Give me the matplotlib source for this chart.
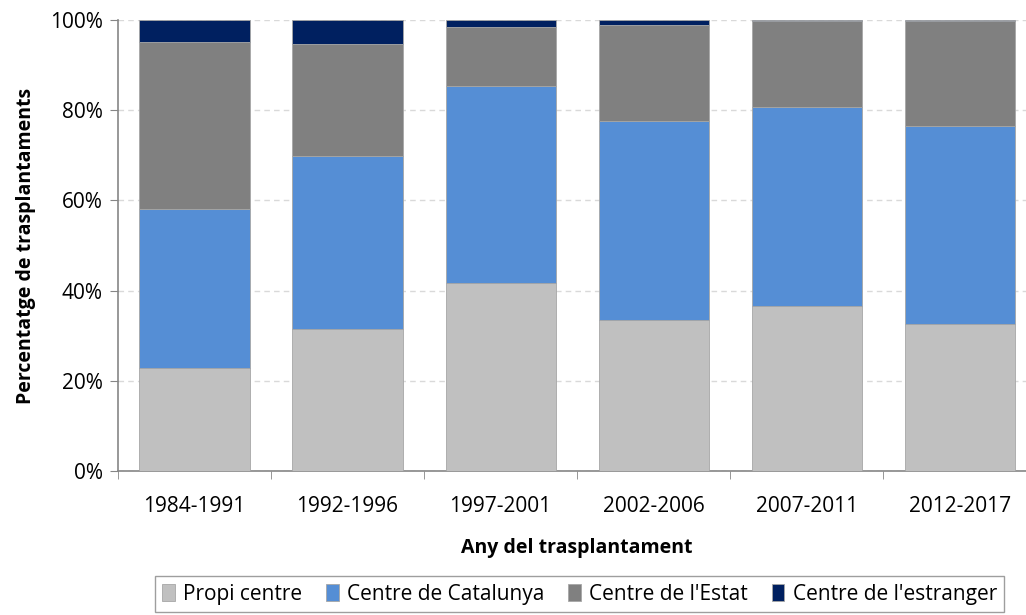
import numpy as np
import matplotlib.pyplot as plt
from matplotlib.ticker import PercentFormatter

plt.rcParams['font.family'] = ['Open Sans', 'DejaVu Sans']

periods = ['1984-1991', '1992-1996', '1997-2001', '2002-2006', '2007-2011', '2012-2017']
propi = [22.8, 31.4, 41.6, 33.4, 36.7, 32.7]
catalunya = [35.4, 38.5, 43.8, 44.3, 44.1, 43.8]
estat = [36.9, 24.8, 13.1, 21.2, 19.0, 23.3]
estranger = [4.9, 5.3, 1.5, 1.1, 0.2, 0.2]

series = [propi, catalunya, estat, estranger]
names = ['Propi centre', 'Centre de Catalunya', "Centre de l'Estat", "Centre de l'estranger"]
colors = ['#C0C0C0', '#558ED5', '#808080', '#002060']

fig = plt.figure(figsize=(10.26, 6.15), dpi=100)
ax = fig.add_axes([0.115, 0.234, 0.895, 0.7335])

x = np.arange(len(periods))
bottom = np.zeros(len(periods))
for vals, name, c in zip(series, names, colors):
    ax.bar(x, vals, 0.72, bottom=bottom, color=c, label=name,
           edgecolor='#A6A6A6', linewidth=0.6, zorder=3)
    bottom += np.array(vals)

ax.set_xlim(-0.5, len(periods) - 0.5)
ax.set_ylim(0, 100)
ax.set_yticks(np.arange(0, 101, 20))
ax.yaxis.set_major_formatter(PercentFormatter(decimals=0))
ax.set_xticks(x)
ax.set_xticklabels(periods)
ax.set_xticks(np.arange(-0.5, len(periods), 1), minor=True)
ax.tick_params(axis='x', which='major', length=0, pad=18, labelsize=15)
ax.tick_params(axis='x', which='minor', length=6, color='#868686', direction='out')
ax.tick_params(axis='y', length=6, color='#868686', labelsize=15, pad=5)

ax.yaxis.grid(True, color='#D9D9D9', linestyle=(0, (4, 3)), linewidth=1, zorder=0)
for s in ['top', 'right']:
    ax.spines[s].set_visible(False)
for s in ['left', 'bottom']:
    ax.spines[s].set_color('#868686')
    ax.spines[s].set_linewidth(1.2)

ax.set_xlabel('Any del trasplantament', fontsize=14, fontweight='bold', labelpad=15)
ax.set_ylabel('Percentatge de trasplantaments', fontsize=14, fontweight='bold', labelpad=10)

leg = fig.legend(loc='center', bbox_to_anchor=(0.565, 0.034), ncol=4, fontsize=15,
                 handlelength=0.6, handleheight=0.9, handletextpad=0.4,
                 columnspacing=1.15, frameon=True, fancybox=False, borderpad=0.35)
leg.get_frame().set_edgecolor('#868686')
leg.get_frame().set_linewidth(1)

fig.savefig('out.png', dpi=100)
